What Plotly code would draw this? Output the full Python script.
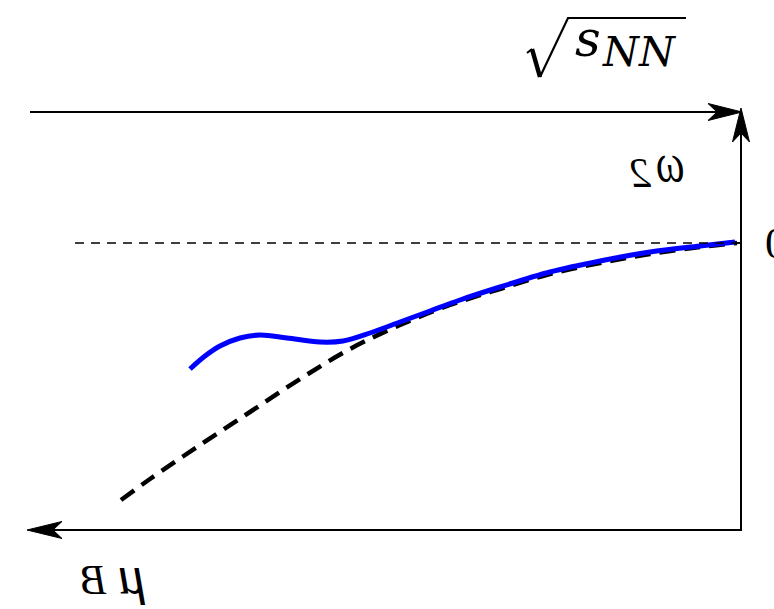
import plotly.graph_objects as go

W, H = 774, 609

# Baseline expectation (dashed) and full calculation (blue): mu_B vs eps_2, arbitrary units
mu_b_baseline = [6.20, 5.91, 5.41, 4.91, 4.41, 3.91, 3.41, 2.91, 2.41, 1.91, 1.41, 0.91, 0.41, 0.04]
eps2_baseline = [-2.57, -2.36, -2.02, -1.69, -1.36, -1.06, -0.82, -0.62, -0.46, -0.31, -0.20, -0.11, -0.04, 0.00]

mu_b_full = [5.51, 5.36, 5.21, 5.01, 4.81, 4.54, 4.21, 3.98, 3.71, 3.41, 3.11, 2.81, 2.41, 1.91, 1.41, 0.91, 0.41, 0.06]
eps2_full = [-1.26, -1.13, -1.03, -0.95, -0.92, -0.95, -0.99, -0.98, -0.90, -0.79, -0.68, -0.57, -0.44, -0.29, -0.18, -0.09, -0.03, 0.01]

reference_level = 0.0

# Axis labels (symbol and its index drawn separately)
label_energy_main = "s"
label_energy_sub = "NN"
label_vertical_main = "ω"
label_vertical_sub = "2"
label_horizontal_main = "μ"
label_horizontal_sub = "B"
label_zero = "0"

SERIF = "Liberation Serif, Times New Roman, serif"
WIDE_SERIF = "DejaVu Serif, serif"


def px(x):
    return x / W


def py(y):
    return 1 - y / H


def poly(points, close=True):
    parts = []
    for i, (x, y) in enumerate(points):
        parts.append(("M" if i == 0 else "L") + f" {px(x):.5f},{py(y):.5f}")
    return " ".join(parts) + (" Z" if close else "")


fig = go.Figure()

fig.add_trace(go.Scatter(
    x=mu_b_baseline, y=eps2_baseline, mode="lines",
    line=dict(color="black", width=4.5, dash="16px,9px", shape="spline"),
    hoverinfo="skip", showlegend=False,
))
fig.add_trace(go.Scatter(
    x=mu_b_full, y=eps2_full, mode="lines",
    line=dict(color="#0000ff", width=5, shape="spline"),
    hoverinfo="skip", showlegend=False,
))

shapes = []
# thin dashed reference line
shapes.append(dict(type="line", xref="paper", yref="y", x0=px(75), x1=px(741),
                   y0=reference_level, y1=reference_level,
                   line=dict(color="black", width=1.3, dash="9px,7px")))
# frame arrows
axis_line = dict(color="black", width=2)
shapes.append(dict(type="line", xref="paper", yref="paper", x0=px(30), y0=py(112), x1=px(716), y1=py(112), line=axis_line))
shapes.append(dict(type="line", xref="paper", yref="paper", x0=px(741), y0=py(530), x1=px(741), y1=py(133), line=axis_line))
shapes.append(dict(type="line", xref="paper", yref="paper", x0=px(742), y0=py(530), x1=px(52), y1=py(530), line=axis_line))
head = dict(type="path", xref="paper", yref="paper", fillcolor="black", line=dict(color="black", width=1))
shapes.append(dict(head, path=poly([(742, 112), (708, 103.5), (717, 112), (708, 120.5)])))
shapes.append(dict(head, path=poly([(741, 108), (732.5, 142), (741, 133), (749.5, 142)])))
shapes.append(dict(head, path=poly([(27, 530), (62, 521.5), (53, 530), (62, 538.5)])))
# tick at zero level
shapes.append(dict(type="line", xref="paper", yref="y", x0=px(735), x1=px(741),
                   y0=reference_level, y1=reference_level, line=dict(color="black", width=1.5)))
# radical sign over s_NN
shapes.append(dict(type="path", xref="paper", yref="paper",
                   path=poly([(527, 53), (532, 49)], close=False), line=dict(color="black", width=2)))
shapes.append(dict(type="path", xref="paper", yref="paper",
                   path=poly([(532, 49), (540, 77)], close=False), line=dict(color="black", width=4.5)))
shapes.append(dict(type="path", xref="paper", yref="paper",
                   path=poly([(540, 77), (568, 18), (686, 18)], close=False), line=dict(color="black", width=2.2)))


def label(text, x, y, size, family=SERIF, italic=True, anchor="center"):
    return dict(text=f"<i>{text}</i>" if italic else text, x=px(x), y=py(y),
                xanchor=anchor, yanchor="middle", xref="paper", yref="paper", showarrow=False,
                font=dict(family=family, size=size, color="black"))


annotations = [
    label(label_energy_main, 573, 39, 50, WIDE_SERIF, anchor="left"),
    label(label_energy_sub, 600, 52, 41, WIDE_SERIF, anchor="left"),
    label(label_vertical_main, 670, 163, 54),
    label(label_vertical_sub, 640, 173, 42),
    label(label_horizontal_main, 132, 575, 54),
    label(label_horizontal_sub, 94, 580, 42),
    label(label_zero, 763, 243, 44, italic=False, anchor="left"),
]

fig.update_layout(
    width=W, height=H,
    margin=dict(l=0, r=0, t=0, b=0),
    paper_bgcolor="white", plot_bgcolor="white",
    xaxis=dict(range=[7.41, -0.33], visible=False, domain=[0, 1]),
    yaxis=dict(range=[-3.66, 2.43], visible=False, domain=[0, 1]),
    shapes=shapes, annotations=annotations, showlegend=False,
)

# the rotated axis labels are shown mirrored (index -> horizontal scale)
mirrored = {2: -0.75, 3: -1, 4: -1, 5: -1}
rules = "".join(
    f'.annotation[data-index="{i}"] .annotation-text'
    f"{{transform:scaleX({s});transform-box:fill-box;transform-origin:center;}}"
    for i, s in mirrored.items()
)
post = (
    "var st=document.createElement('style');"
    f"st.textContent='{rules}body{{margin:0;}}';"
    "document.head.appendChild(st);"
)

fig.write_html("out.html", post_script=post, config={"displayModeBar": False})
